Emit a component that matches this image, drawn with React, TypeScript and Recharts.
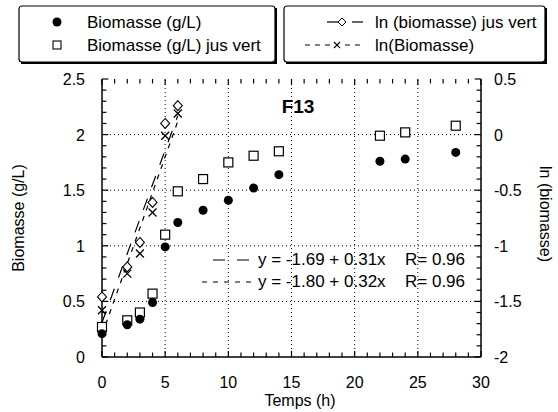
import React from "react";
import { ScatterChart, Scatter, XAxis, YAxis, ReferenceLine } from "recharts";

// temps (h) des prélèvements
const temps = [0, 2, 3, 4, 5, 6, 8, 10, 12, 14, 22, 24, 28];
const biomasse = [0.21, 0.29, 0.34, 0.49, 0.99, 1.21, 1.32, 1.41, 1.52, 1.64, 1.76, 1.78, 1.84];
const biomasseJusVert = [0.27, 0.33, 0.4, 0.57, 1.1, 1.49, 1.6, 1.75, 1.81, 1.85, 1.99, 2.02, 2.08];

// phase exponentielle, ln
const tempsLn = [0, 2, 3, 4, 5, 6];
const lnJusVert = [-1.46, -1.19, -0.97, -0.61, 0.1, 0.26];
const lnBiomasse = [-1.58, -1.25, -1.07, -0.7, -0.01, 0.19];

// droites de régression (extrémités)
const fitTemps = [0, 6];
const fitJusVert = [-1.69, 0.17];
const fitBiomasse = [-1.8, 0.12];

const xLabels = [0, 5, 10, 15, 20, 25, 30];
const leftLabels = [0, 0.5, 1, 1.5, 2, 2.5];
const rightLabels = [-2, -1.5, -1, -0.5, 0, 0.5];
const xMinor = Array.from({ length: 31 }, (_, i) => i);
const leftMinor = Array.from({ length: 26 }, (_, i) => i / 10);

const pts = (xs: number[], ys: number[]) => xs.map((t, i) => ({ t, v: ys[i] }));
const isLabel = (labels: number[], v: number) => labels.some((l) => Math.abs(l - v) < 1e-6);
const fmt = (v: number) => String(Math.round(v * 10) / 10);

const FONT = "'Liberation Sans', Arial, Helvetica, sans-serif";

const BottomTick = (props: any) => {
  const { x, y, payload } = props;
  return (
    <text x={x} y={y} textAnchor="middle" fontSize={16} fontFamily={FONT} fill="#000">
      {payload.value}
    </text>
  );
};

const LeftTick = (props: any) => {
  const { x, y, payload } = props;
  return (
    <text x={x} y={y} dy={6} textAnchor="end" fontSize={16} fontFamily={FONT} fill="#000">
      {fmt(payload.value)}
    </text>
  );
};

const RightTick = (props: any) => {
  const { x, y, payload } = props;
  return (
    <text x={x} y={y} dy={6} textAnchor="start" fontSize={16} fontFamily={FONT} fill="#000">
      {fmt(payload.value)}
    </text>
  );
};

const Dot = (p: any) => <circle cx={p.cx} cy={p.cy} r={4.5} fill="#000" />;
const Square = (p: any) => (
  <rect x={p.cx - 4.5} y={p.cy - 4.5} width={9} height={9} fill="#fff" stroke="#000" strokeWidth={1.2} />
);
const Diamond = (p: any) => (
  <path
    d={`M${p.cx},${p.cy - 5}L${p.cx + 4.5},${p.cy}L${p.cx},${p.cy + 5}L${p.cx - 4.5},${p.cy}Z`}
    fill="#fff"
    stroke="#000"
    strokeWidth={1.1}
  />
);
const Cross = (p: any) => (
  <path
    d={`M${p.cx - 4},${p.cy - 4}L${p.cx + 4},${p.cy + 4}M${p.cx + 4},${p.cy - 4}L${p.cx - 4},${p.cy + 4}`}
    stroke="#000"
    strokeWidth={1.3}
  />
);
const NoShape = () => <g />;

const Overlay = () => (
  <svg
    width={558}
    height={412}
    style={{ position: "absolute", left: 0, top: 0, pointerEvents: "none" }}
    fontFamily={FONT}
  >
    {/* légende gauche */}
    <rect x={19} y={6} width={256} height={56} rx={3} fill="none" stroke="#000" strokeWidth={1.2} />
    <path d="M21,63 L276,63 L276,8" fill="none" stroke="#000" strokeWidth={2} />
    <circle cx={57} cy={22} r={4.5} fill="#000" />
    <text x={87} y={28} fontSize={17} fill="#000">Biomasse (g/L)</text>
    <rect x={53} y={41} width={8} height={8} fill="#fff" stroke="#000" strokeWidth={1.1} />
    <text x={87} y={51} fontSize={17} fill="#000">Biomasse (g/L) jus vert</text>

    {/* légende droite */}
    <rect x={284} y={6} width={261} height={56} rx={3} fill="none" stroke="#000" strokeWidth={1.2} />
    <path d="M286,63 L546,63 L546,8" fill="none" stroke="#000" strokeWidth={2} />
    <line x1={327} y1={22} x2={338} y2={22} stroke="#000" strokeWidth={1.2} />
    <path d="M342,18 L346,22 L342,26 L338,22 Z" fill="#fff" stroke="#000" strokeWidth={1} />
    <line x1={352} y1={22} x2={363} y2={22} stroke="#000" strokeWidth={1.2} />
    <text x={375} y={28} fontSize={17} fill="#000">ln (biomasse) jus vert</text>
    <line x1={305} y1={45} x2={365} y2={45} stroke="#000" strokeWidth={1.2} strokeDasharray="5 5" />
    <rect x={330} y={39} width={14} height={12} fill="#fff" />
    <path d="M334,42 L340,48 M340,42 L334,48" stroke="#000" strokeWidth={1.1} />
    <text x={375} y={51} fontSize={17} fill="#000">ln(Biomasse)</text>

    {/* titre */}
    <text x={298} y={113} fontSize={19} fontWeight="bold" textAnchor="middle" fill="#000">F13</text>

    {/* équations */}
    <line x1={213} y1={260} x2={250} y2={260} stroke="#000" strokeWidth={1.2} strokeDasharray="12 12" />
    <text x={258} y={265} fontSize={17} fill="#000">y = -1.69 + 0.31x</text>
    <text x={405} y={265} fontSize={17} fill="#000">R= 0.96</text>
    <line x1={202} y1={282} x2={252} y2={282} stroke="#000" strokeWidth={1.2} strokeDasharray="5 6" />
    <text x={258} y={287} fontSize={17} fill="#000">y = -1.80 + 0.32x</text>
    <text x={405} y={287} fontSize={17} fill="#000">R= 0.96</text>

    {/* titres des axes */}
    <text transform="translate(24,218) rotate(-90)" fontSize={16} textAnchor="middle" fill="#000">
      Biomasse (g/L)
    </text>
    <text transform="translate(540,214) rotate(90)" fontSize={16} textAnchor="middle" fill="#000">
      ln (biomasse)
    </text>
    <text x={300} y={406} fontSize={16} textAnchor="middle" fill="#000">Temps (h)</text>
  </svg>
);

const tickStroke = { stroke: "#000", strokeWidth: 1.2 };

export default function App() {
  const axisLine = { stroke: "#000", strokeWidth: 1.5 };
  return (
    <div style={{ position: "absolute", left: 0, top: 0, width: 558, height: 412, background: "#fff" }}>
      <ScatterChart width={558} height={412} margin={{ top: 79, right: 0, bottom: 0, left: 0 }}>
        <XAxis
          type="number"
          dataKey="t"
          domain={[0, 30]}
          ticks={xLabels}
          interval={0}
          height={55}
          axisLine={axisLine}
          tickLine={false}
          tickSize={0}
          tickMargin={31}
          tick={BottomTick}
        />
        <XAxis
          xAxisId="top"
          orientation="top"
          type="number"
          dataKey="t"
          domain={[0, 30]}
          ticks={xLabels}
          height={0}
          axisLine={axisLine}
          tickLine={false}
          tick={false}
        />
        <YAxis
          yAxisId="left"
          type="number"
          dataKey="v"
          domain={[0, 2.5]}
          ticks={leftLabels}
          interval={0}
          width={102}
          axisLine={axisLine}
          tickLine={false}
          tickSize={0}
          tickMargin={17}
          tick={LeftTick}
        />
        <YAxis
          yAxisId="right"
          orientation="right"
          type="number"
          dataKey="v"
          domain={[-2, 0.5]}
          ticks={rightLabels}
          interval={0}
          width={77}
          axisLine={axisLine}
          tickLine={false}
          tickSize={0}
          tickMargin={13}
          tick={RightTick}
        />
        {xLabels.slice(1, -1).map((x) => (
          <ReferenceLine key={"x" + x} x={x} yAxisId="left" stroke="#000" strokeDasharray="1 3" />
        ))}
        {leftLabels.slice(1, -1).map((y) => (
          <ReferenceLine key={"y" + y} y={y} yAxisId="left" stroke="#000" strokeDasharray="1 3" />
        ))}
        {/* graduations intérieures bas / haut */}
        {xMinor.map((x) => {
          const len = isLabel(xLabels, x) ? 0.055 : 0.04;
          return (
            <React.Fragment key={"tx" + x}>
              <ReferenceLine yAxisId="left" segment={[{ x, y: 0 }, { x, y: len }]} {...tickStroke} />
              <ReferenceLine yAxisId="left" segment={[{ x, y: 2.5 }, { x, y: 2.5 - len }]} {...tickStroke} />
            </React.Fragment>
          );
        })}
        {/* graduations intérieures gauche / droite (pas de 0.1) */}
        {leftMinor.map((y) => {
          const len = isLabel(leftLabels, y) ? 0.5 : 0.35;
          return (
            <React.Fragment key={"ty" + y}>
              <ReferenceLine yAxisId="left" segment={[{ x: 0, y }, { x: len, y }]} {...tickStroke} />
              <ReferenceLine yAxisId="left" segment={[{ x: 30, y }, { x: 30 - len, y }]} {...tickStroke} />
            </React.Fragment>
          );
        })}
        <Scatter
          data={pts(fitTemps, fitJusVert)}
          yAxisId="right"
          shape={NoShape}
          line={{ stroke: "#000", strokeWidth: 1.2, strokeDasharray: "12 12" }}
          isAnimationActive={false}
        />
        <Scatter
          data={pts(fitTemps, fitBiomasse)}
          yAxisId="right"
          shape={NoShape}
          line={{ stroke: "#000", strokeWidth: 1.2, strokeDasharray: "5 6" }}
          isAnimationActive={false}
        />
        <Scatter data={pts(temps, biomasseJusVert)} yAxisId="left" shape={Square} isAnimationActive={false} />
        <Scatter data={pts(temps, biomasse)} yAxisId="left" shape={Dot} isAnimationActive={false} />
        <Scatter data={pts(tempsLn, lnJusVert)} yAxisId="right" shape={Diamond} isAnimationActive={false} />
        <Scatter data={pts(tempsLn, lnBiomasse)} yAxisId="right" shape={Cross} isAnimationActive={false} />
      </ScatterChart>
      <Overlay />
    </div>
  );
}
